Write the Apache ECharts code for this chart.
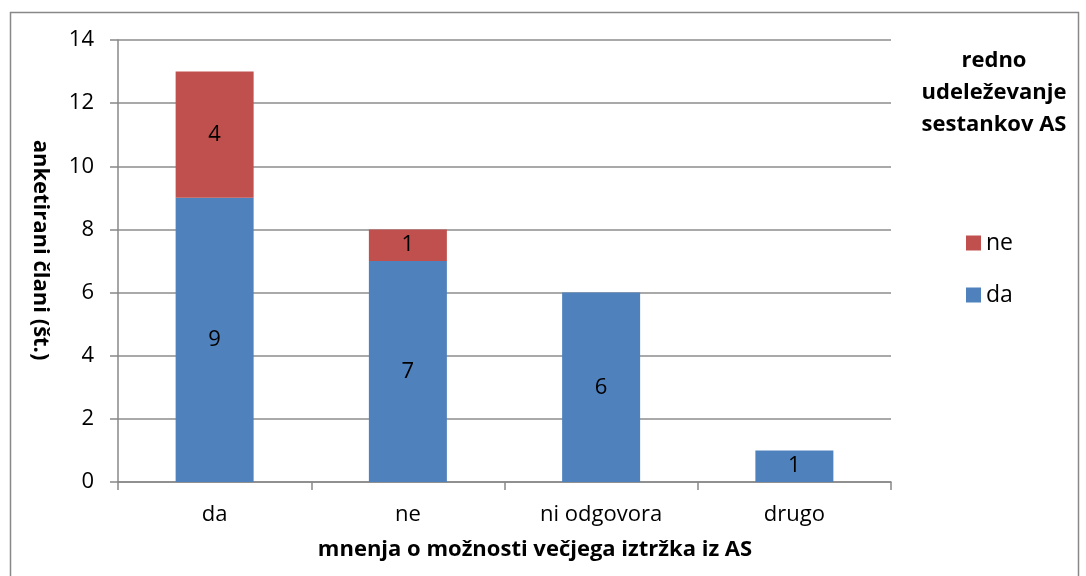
<!DOCTYPE html>
<html>
<head>
<meta charset="utf-8">
<script src="https://cdn.jsdelivr.net/npm/echarts@6/dist/echarts.min.js"></script>
<style>
    html, body { margin: 0; padding: 0; background: #ffffff; }
    #chart { width: 1086px; height: 576px; }
</style>
</head>
<body>
<div id="chart"></div>
<script>
const categories = ["da", "ne", "ni odgovora", "drugo"];
const seriesNames = ["da", "ne"];
const daValues = [9, 7, 6, 1];
const neValues = [4, 1, null, null];
const yTicks = { min: 0, max: 14, interval: 2 };

const fontFamily = "'Open Sans', 'Noto Sans', sans-serif";
const colors = ["#4F81BD", "#C0504D"];

const barOptions = {
    type: "bar",
    stack: "total",
    barWidth: 78,
    label: {
        show: true,
        position: "inside",
        color: "#000000",
        fontSize: 22,
        fontFamily,
    },
};

let chartDom = document.getElementById("chart");
let myChart = echarts.init(chartDom);

let series = [
    { name: seriesNames[0], data: daValues, ...barOptions, itemStyle: { color: colors[0] } },
    { name: seriesNames[1], data: neValues, ...barOptions, itemStyle: { color: colors[1] } },
];

let option = {
    animation: false,
    backgroundColor: "#ffffff",
    grid: { left: 118, top: 40, right: 195, bottom: 94 },
    title: {
        text: "redno\nudeleževanje\nsestankov AS",
        left: 989,
        top: 40,
        textAlign: "center",
        textStyle: {
            fontFamily,
            fontWeight: "bold",
            fontSize: 22,
            lineHeight: 32,
            color: "#000000",
        },
    },
    legend: {
        orient: "vertical",
        left: 966,
        top: 231,
        padding: 0,
        itemGap: 28,
        itemWidth: 15,
        itemHeight: 15,
        icon: "rect",
        data: ["ne", "da"],
        textStyle: { fontFamily, fontSize: 23, lineHeight: 24, color: "#000000" },
    },
    xAxis: {
        type: "category",
        data: categories,
        axisLine: { lineStyle: { color: "#888888", width: 1.5 } },
        axisTick: { show: true, length: 8, lineStyle: { color: "#888888", width: 1.5 } },
        axisLabel: { fontFamily, fontSize: 22, color: "#000000", margin: 22 },
    },
    yAxis: {
        type: "value",
        ...yTicks,
        axisLine: { show: true, lineStyle: { color: "#888888", width: 1.5 } },
        axisTick: { show: true, length: 8, lineStyle: { color: "#888888", width: 1.5 } },
        axisLabel: { fontFamily, fontSize: 22, color: "#000000", margin: 24 },
        splitLine: { lineStyle: { color: "#8c8c8c", width: 1.5 } },
    },
    graphic: [
        {
            type: "rect",
            shape: { x: 10.5, y: 12.5, width: 1068, height: 570 },
            style: { fill: "none", stroke: "#888888", lineWidth: 1.5 },
            silent: true,
        },
        {
            type: "text",
            x: 40,
            y: 250,
            rotation: -Math.PI / 2,
            style: {
                text: "anketirani člani (št.)",
                fontFamily,
                fontSize: 22,
                fontWeight: "bold",
                fill: "#000000",
                align: "center",
                verticalAlign: "middle",
            },
        },
        {
            type: "text",
            x: 535,
            y: 550,
            style: {
                text: "mnenja o možnosti večjega iztržka iz AS",
                fontFamily,
                fontSize: 22,
                fontWeight: "bold",
                fill: "#000000",
                align: "center",
                verticalAlign: "middle",
            },
        },
    ],
    series,
};

option && myChart.setOption(option);
</script>
</body>
</html>
